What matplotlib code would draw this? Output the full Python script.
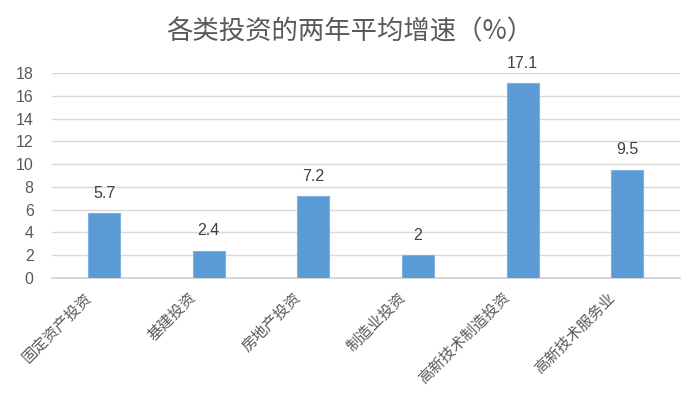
import matplotlib
matplotlib.use("Agg")
import matplotlib.pyplot as plt
from matplotlib.transforms import offset_copy

plt.rcParams['font.family'] = ['Noto Sans CJK SC', 'DejaVu Sans']

# data
categories = ["固定资产投资", "基建投资", "房地产投资", "制造业投资", "高新技术制造投资", "高新技术服务业"]
values = [5.7, 2.4, 7.2, 2, 17.1, 9.5]
value_labels = ["5.7", "2.4", "7.2", "2", "17.1", "9.5"]
yticks = [0, 2, 4, 6, 8, 10, 12, 14, 16, 18]

fig = plt.figure(figsize=(7, 4.2), dpi=100)
ax = fig.add_axes([0.074, 0.338, 0.897, 0.488])

x = list(range(len(categories)))
ax.bar(x, values, width=0.305, color="#5B9BD5", edgecolor="#7FB2E0", linewidth=0.8, zorder=3)

# value labels ~20px above each bar
for xi, v, lab in zip(x, values, value_labels):
    tr = offset_copy(ax.transData, fig=fig, x=0, y=20, units="dots")
    ax.text(xi, v, lab, transform=tr, ha="center", va="center",
            fontsize=11.5, color="#404040", family="Liberation Sans")

ax.set_xlim(-0.5, len(categories) - 0.5)
ax.set_ylim(0, 18)
ax.set_yticks(yticks)
ax.set_yticklabels([str(t) for t in yticks], fontsize=11.5, color="#595959", family="Liberation Sans")
ax.yaxis.grid(True, color="#D9D9D9", linewidth=1, zorder=0)
ax.tick_params(axis="y", length=0, pad=13)
ax.tick_params(axis="x", length=0)

ax.set_xticks(x)
ax.set_xticklabels([])
# rotated category labels
for xi, c in zip(x, categories):
    tr = offset_copy(ax.get_xaxis_transform(), fig=fig, x=-15, y=-17, units="dots")
    ax.text(xi, 0, c, transform=tr, rotation=45, rotation_mode="anchor",
            ha="right", va="center", fontsize=11, color="#595959")

for s in ["top", "right", "left"]:
    ax.spines[s].set_visible(False)
ax.spines["bottom"].set_color("#D0D0D0")
ax.spines["bottom"].set_linewidth(1.2)

fig.text(0.5, 0.924, "各类投资的两年平均增速（%）", ha="center", va="center",
         fontsize=19, color="#595959")

fig.savefig("out.png", dpi=100)
